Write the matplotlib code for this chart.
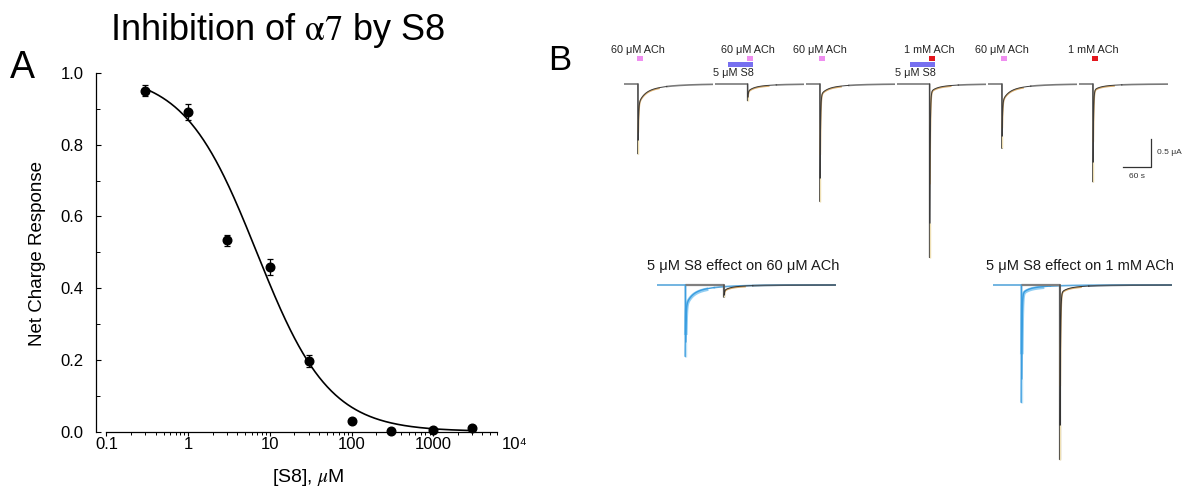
import numpy as np
import matplotlib
matplotlib.use("Agg")
import matplotlib.pyplot as plt
from matplotlib.patches import Rectangle
from matplotlib.ticker import FixedLocator, FixedFormatter, NullFormatter

plt.rcParams['font.family'] = ['Liberation Sans', 'DejaVu Sans']
plt.rcParams['mathtext.fontset'] = 'stix'

# ---------------- Panel A: concentration-response data ----------------
s8_conc = [0.3, 1, 3, 10, 30, 100, 300, 1000, 3000]
net_charge = [0.951, 0.891, 0.533, 0.458, 0.197, 0.029, 0.002, 0.003, 0.011]
net_charge_sem = [0.016, 0.022, 0.016, 0.022, 0.017, 0.0, 0.0, 0.0, 0.0]

# Hill fit parameters
ic50_uM = 6.9
hill_n = 0.98

x_tick_values = [0.1, 1, 10, 100, 1000, 10000]
x_tick_labels = ['0.1', '1', '10', '100', '1000', '10⁴']
y_tick_values = [0.0, 0.2, 0.4, 0.6, 0.8, 1.0]
y_tick_labels = ['0.0', '0.2', '0.4', '0.6', '0.8', '1.0']

# ---------------- Panel B: oocyte recordings ----------------
sweep_ach_labels = ['60 μM ACh', '60 μM ACh', '60 μM ACh', '1 mM ACh', '60 μM ACh', '1 mM ACh']
sweep_ach_is_high = [False, False, False, True, False, True]
sweep_with_s8 = [False, True, False, True, False, False]
sweep_peak_uA = [1.25, 0.30, 2.10, 3.10, 1.15, 1.75]
sweep_slow_frac = [0.30, 0.45, 0.10, 0.05, 0.28, 0.07]

overlay_titles = ['5 μM S8 effect on 60 μM ACh', '5 μM S8 effect on 1 mM ACh']
overlay_control_peak_uA = [1.28, 2.10]
overlay_s8_peak_uA = [0.22, 3.12]
overlay_control_slow = [0.30, 0.08]
overlay_s8_slow = [0.45, 0.05]

s8_label = '5 μM S8'

# ---------------- figure ----------------
W, H = 1184.0, 493.0
fig = plt.figure(figsize=(W / 100, H / 100), dpi=100)


def fx(px):
    return px / W


def fy(py):
    return 1.0 - py / H


ax = fig.add_axes([fx(106.5), fy(431.5), (515 - 106.5) / W, (431.5 - 73) / H])
ax.set_xscale('log')
ax.set_xlim(0.1, 1e4)
ax.set_ylim(0.0, 1.0)

curve_x = np.logspace(np.log10(s8_conc[0]), np.log10(s8_conc[-1]), 400)
curve_y = 1.0 / (1.0 + (curve_x / ic50_uM) ** hill_n)
ax.plot(curve_x, curve_y, color='black', lw=1.2, clip_on=False, zorder=2)

eb = ax.errorbar(s8_conc, net_charge, yerr=net_charge_sem, fmt='o', color='black',
                 ms=6.2, capsize=2.2, elinewidth=0.9, capthick=0.9, zorder=3)
eb[0].set_clip_on(False)
for art in list(eb[1]) + list(eb[2]):
    art.set_clip_on(False)

for side in ('top', 'right'):
    ax.spines[side].set_visible(False)
ax.spines['left'].set_position(('outward', 7.5))
ax.spines['left'].set_bounds(0.0, 1.0)
ax.spines['bottom'].set_bounds(0.1, 6000)
for side in ('left', 'bottom'):
    ax.spines[side].set_linewidth(0.9)

ax.xaxis.set_major_locator(FixedLocator(x_tick_values))
ax.xaxis.set_major_formatter(FixedFormatter(x_tick_labels))
x_minor = [m * 10.0 ** e for e in range(-1, 4) for m in range(2, 10) if m * 10.0 ** e <= 6000]
ax.xaxis.set_minor_locator(FixedLocator(x_minor))
ax.xaxis.set_minor_formatter(NullFormatter())
ax.yaxis.set_major_locator(FixedLocator(y_tick_values))
ax.yaxis.set_major_formatter(FixedFormatter(y_tick_labels))
ax.yaxis.set_minor_locator(FixedLocator([0.1, 0.3, 0.5, 0.7, 0.9]))

ax.tick_params(axis='x', which='major', direction='out', length=3.2, width=0.8, pad=0.8, labelsize=12)
ax.tick_params(axis='x', which='minor', direction='out', length=2.2, width=0.7)
ax.tick_params(axis='y', which='major', direction='in', length=3.6, width=0.8, pad=9, labelsize=12)
ax.tick_params(axis='y', which='minor', direction='in', length=3.0, width=0.7)
ax.xaxis.get_major_ticks()[-1].tick1line.set_visible(False)

fig.text(fx(38), fy(253), 'Net Charge Response', rotation=90, ha='center', va='center', fontsize=13.5)
fig.text(fx(308), fy(478), r'[S8], $\mathit{\mu}$M', ha='center', va='center', fontsize=14)
fig.text(fx(277.5), fy(31), r'Inhibition of $\mathrm{\alpha 7}$ by S8', ha='center', va='center', fontsize=26)
fig.text(fx(22), fy(68), 'A', ha='center', va='center', fontsize=27)
fig.text(fx(560), fy(60), 'B', ha='center', va='center', fontsize=25)

# ---------------- Panel B drawing ----------------
axb = fig.add_axes([fx(600), 0.0, (W - 600) / W, 1.0])
axb.set_axis_off()
SEC_PER_PX = 60.0 / 28.0
UA_PER_PX = 0.5 / 28.0
axb.set_xlim(0, (W - 600) * SEC_PER_PX)
axb.set_ylim(-(H - 84) * UA_PER_PX, 84 * UA_PER_PX)


def bx(px):
    return (px - 600) * SEC_PER_PX


def by(py):
    return (84 - py) * UA_PER_PX


def response(t, onset, peak, slow_frac, tau_fast=1.0, tau_mid=12.0, tau_late=50.0):
    y = np.zeros_like(t)
    m = t >= onset
    d = t[m] - onset
    y[m] = -peak * ((1 - slow_frac) * np.exp(-d / tau_fast)
                    + slow_frac * (0.6 * np.exp(-d / tau_mid) + 0.4 * np.exp(-d / tau_late)))
    return y


def draw_trace(x0, length, onset, peak, slow, y0, line_col, halo_col, tip_col,
               base_col, lw=0.7, pre_col=None, z=3, halo_lw=1.2):
    t = np.union1d(np.arange(0, length, 0.1), [onset])
    y = response(t, onset, peak, slow)
    pre = t <= onset
    axb.plot(x0 + t[pre], y0 + y[pre], color=pre_col or base_col,
             lw=1.6 if pre_col else 1.2, zorder=z, solid_capstyle='butt')
    late = t >= onset + 60
    axb.plot(x0 + t[late], y0 + y[late], color=base_col, lw=1.2, zorder=z,
             solid_capstyle='butt')
    post = (t >= onset - 0.1) & (t <= onset + 62)
    axb.plot(x0 + t[post], y0 + y[post], color=line_col, lw=lw, zorder=z + 0.2)
    m = (t >= onset + 0.6) & (t <= onset + 45)
    axb.plot(x0 + t[m], y0 + y[m] - 0.012, color=halo_col, lw=halo_lw, alpha=0.75, zorder=z + 0.1)
    axb.plot([x0 + onset, x0 + onset], [y0 - 0.80 * peak, y0 - peak], color=tip_col,
             lw=1.0, zorder=z + 0.4, solid_capstyle='butt')


PINK = '#ef8ef0'
RED = '#e3161d'
S8_BLUE = '#7770f0'
TRACE = '#3c3c3c'
BASE = '#7a7a7a'
HALO = '#c98d35'
TIP = '#efe0b4'

SWEEP_LEN = 89 * SEC_PER_PX
SWEEP_STEP = 91 * SEC_PER_PX
FIRST_SWEEP = bx(624)
ONSET_CTRL = 30.0
ONSET_S8 = 70.0
S8_START = 27.0
BASE_TOP = by(84)

for k in range(len(sweep_peak_uA)):
    x0 = FIRST_SWEEP + k * SWEEP_STEP
    onset = ONSET_S8 if sweep_with_s8[k] else ONSET_CTRL
    draw_trace(x0, SWEEP_LEN, onset, sweep_peak_uA[k], sweep_slow_frac[k], BASE_TOP,
               TRACE, HALO, TIP, BASE)
    ach_col = RED if sweep_ach_is_high[k] else PINK
    sq_x = x0 + onset - 2.0
    axb.add_patch(Rectangle((sq_x, by(61)), 13.0, by(56) - by(61), color=ach_col, lw=0, zorder=4))
    axb.text(sq_x + 6.5 - 2 * SEC_PER_PX, by(50), sweep_ach_labels[k], ha='center', va='center',
             fontsize=7.8, color='#222222')
    if sweep_with_s8[k]:
        bar_end = x0 + onset + 11.0
        axb.add_patch(Rectangle((x0 + S8_START, by(67.5)), bar_end - (x0 + S8_START),
                                by(62) - by(67.5), color=S8_BLUE, lw=0, zorder=4))
        axb.text(bar_end + 1 * SEC_PER_PX, by(73), s8_label, ha='right', va='center',
                 fontsize=7.8, color='#222222')

# Overlays of control (blue) and S8 (dark) responses
WIN_LEN = 179 * SEC_PER_PX
CTRL_ONSET = 28.5 * SEC_PER_PX
S8_ONSET = 38.5 * SEC_PER_PX
BASE_BOT = by(285)
BLUE_LINE = '#3a9de0'
BLUE_HALO = '#6cbdee'
BLUE_TIP = '#c2e4f7'
BLUE_BASE = '#5aa8dc'
for j, win_px in enumerate([657, 993]):
    w0 = bx(win_px)
    draw_trace(w0, WIN_LEN, CTRL_ONSET, overlay_control_peak_uA[j], overlay_control_slow[j],
               BASE_BOT, BLUE_LINE, BLUE_HALO, BLUE_TIP, BLUE_BASE, lw=1.0, z=2, halo_lw=2.6)
    draw_trace(w0 + CTRL_ONSET, WIN_LEN - CTRL_ONSET, S8_ONSET, overlay_s8_peak_uA[j],
               overlay_s8_slow[j], BASE_BOT, '#333333', HALO, TIP, '#4a5a66', lw=0.7,
               pre_col='#808080', z=5)
    axb.text(w0 + WIN_LEN / 2 - 3 * SEC_PER_PX, by(266), overlay_titles[j], ha='center',
             va='center', fontsize=10.5, color='#1a1a1a')

# Scale bar
sb_x, sb_y = bx(1151), by(167)
axb.plot([sb_x - 60.0, sb_x, sb_x], [sb_y, sb_y, sb_y + 0.5], color='#333333', lw=0.9)
axb.text(bx(1157), by(153), '0.5 μA', ha='left', va='center', fontsize=6, color='#333333')
axb.text(bx(1137), by(177), '60 s', ha='center', va='center', fontsize=6, color='#333333')

fig.savefig('out.png', dpi=100)
